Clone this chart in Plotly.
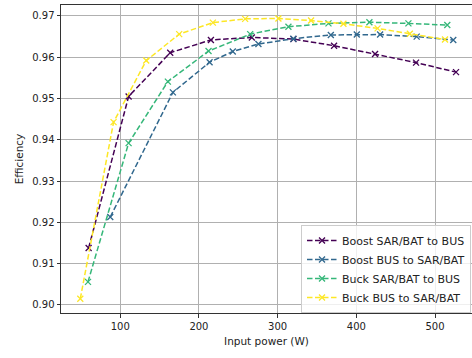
import plotly.graph_objects as go

series_names = ["Boost SAR/BAT to BUS", "Boost BUS to SAR/BAT",
                "Buck SAR/BAT to BUS", "Buck BUS to SAR/BAT"]
colors = ["#440154", "#31688e", "#35b779", "#fde725"]

boost_sb_x = [59.8, 110.6, 163.5, 215.2, 267.2, 320.1, 371.7, 423.8, 475.9, 526.7]
boost_sb_y = [0.9138, 0.9505, 0.9611, 0.9642, 0.9648, 0.9644, 0.9628, 0.9608, 0.9587, 0.9564]

boost_bs_x = [87.3, 166.9, 213.5, 243.0, 275.6, 320.0, 367.6, 400.6, 430.2, 476.7, 523.2]
boost_bs_y = [0.9213, 0.9515, 0.9588, 0.9614, 0.9632, 0.9645, 0.9654, 0.9655, 0.9655, 0.9650, 0.9642]

buck_sb_x = [59.0, 110.6, 160.5, 212.2, 265.1, 313.7, 364.6, 416.6, 466.2, 515.6]
buck_sb_y = [0.9056, 0.9392, 0.9541, 0.9615, 0.9656, 0.9674, 0.9682, 0.9685, 0.9682, 0.9678]

buck_bs_x = [49.2, 91.5, 133.0, 174.9, 217.7, 258.7, 301.0, 342.5, 383.6, 427.0, 468.0, 512.7]
buck_bs_y = [0.9015, 0.9443, 0.9592, 0.9656, 0.9684, 0.9693, 0.9694, 0.9689, 0.9681, 0.9670, 0.9657, 0.9643]

xs = [boost_sb_x, boost_bs_x, buck_sb_x, buck_bs_x]
ys = [boost_sb_y, boost_bs_y, buck_sb_y, buck_bs_y]

x_ticks = [100, 200, 300, 400, 500]
y_ticks = [0.90, 0.91, 0.92, 0.93, 0.94, 0.95, 0.96, 0.97]

fig = go.Figure()
for name, c, x, y in zip(series_names, colors, xs, ys):
    fig.add_trace(go.Scatter(
        x=x, y=y, name=name, mode="lines+markers",
        line=dict(color=c, width=1.5, dash="5.5px,2.5px"),
        marker=dict(symbol="x-thin", size=6, line=dict(color=c, width=1.3), color=c),
    ))

font_family = "DejaVu Sans"
fig.update_layout(
    width=472, height=358,
    margin=dict(l=61, r=0, t=5, b=45, autoexpand=False),
    paper_bgcolor="white", plot_bgcolor="white",
    font=dict(family=font_family, size=10, color="#222222"),
    showlegend=True,
    legend=dict(x=0.9976, y=0.0, xanchor="right", yanchor="bottom",
                bgcolor="rgba(255,255,255,0.8)", bordercolor="#cccccc", borderwidth=1,
                font=dict(size=11, color="#222222"), tracegroupgap=0),
    xaxis=dict(range=[24.7, 547], tickvals=x_ticks, ticktext=[str(v) for v in x_ticks],
               showgrid=True, gridcolor="#b0b0b0", gridwidth=0.8,
               showline=True, linecolor="#333333", linewidth=1, mirror=True,
               ticks="outside", ticklen=3.5, tickcolor="#333333",
               zeroline=False, automargin=False,
               title=dict(text="Input power (W)", standoff=7, font=dict(size=10.5))),
    yaxis=dict(range=[0.89806, 0.97266], tickvals=y_ticks,
               ticktext=["%.2f" % v for v in y_ticks],
               showgrid=True, gridcolor="#b0b0b0", gridwidth=0.8,
               showline=True, linecolor="#333333", linewidth=1, mirror=False,
               ticks="outside", ticklen=3.5, tickcolor="#333333",
               zeroline=False, automargin=False,
               title=dict(text="Efficiency", standoff=6, font=dict(size=10.5))),
)

fig.write_html("out.html", config={"displayModeBar": False},
               post_script="document.body.style.margin='0';")
